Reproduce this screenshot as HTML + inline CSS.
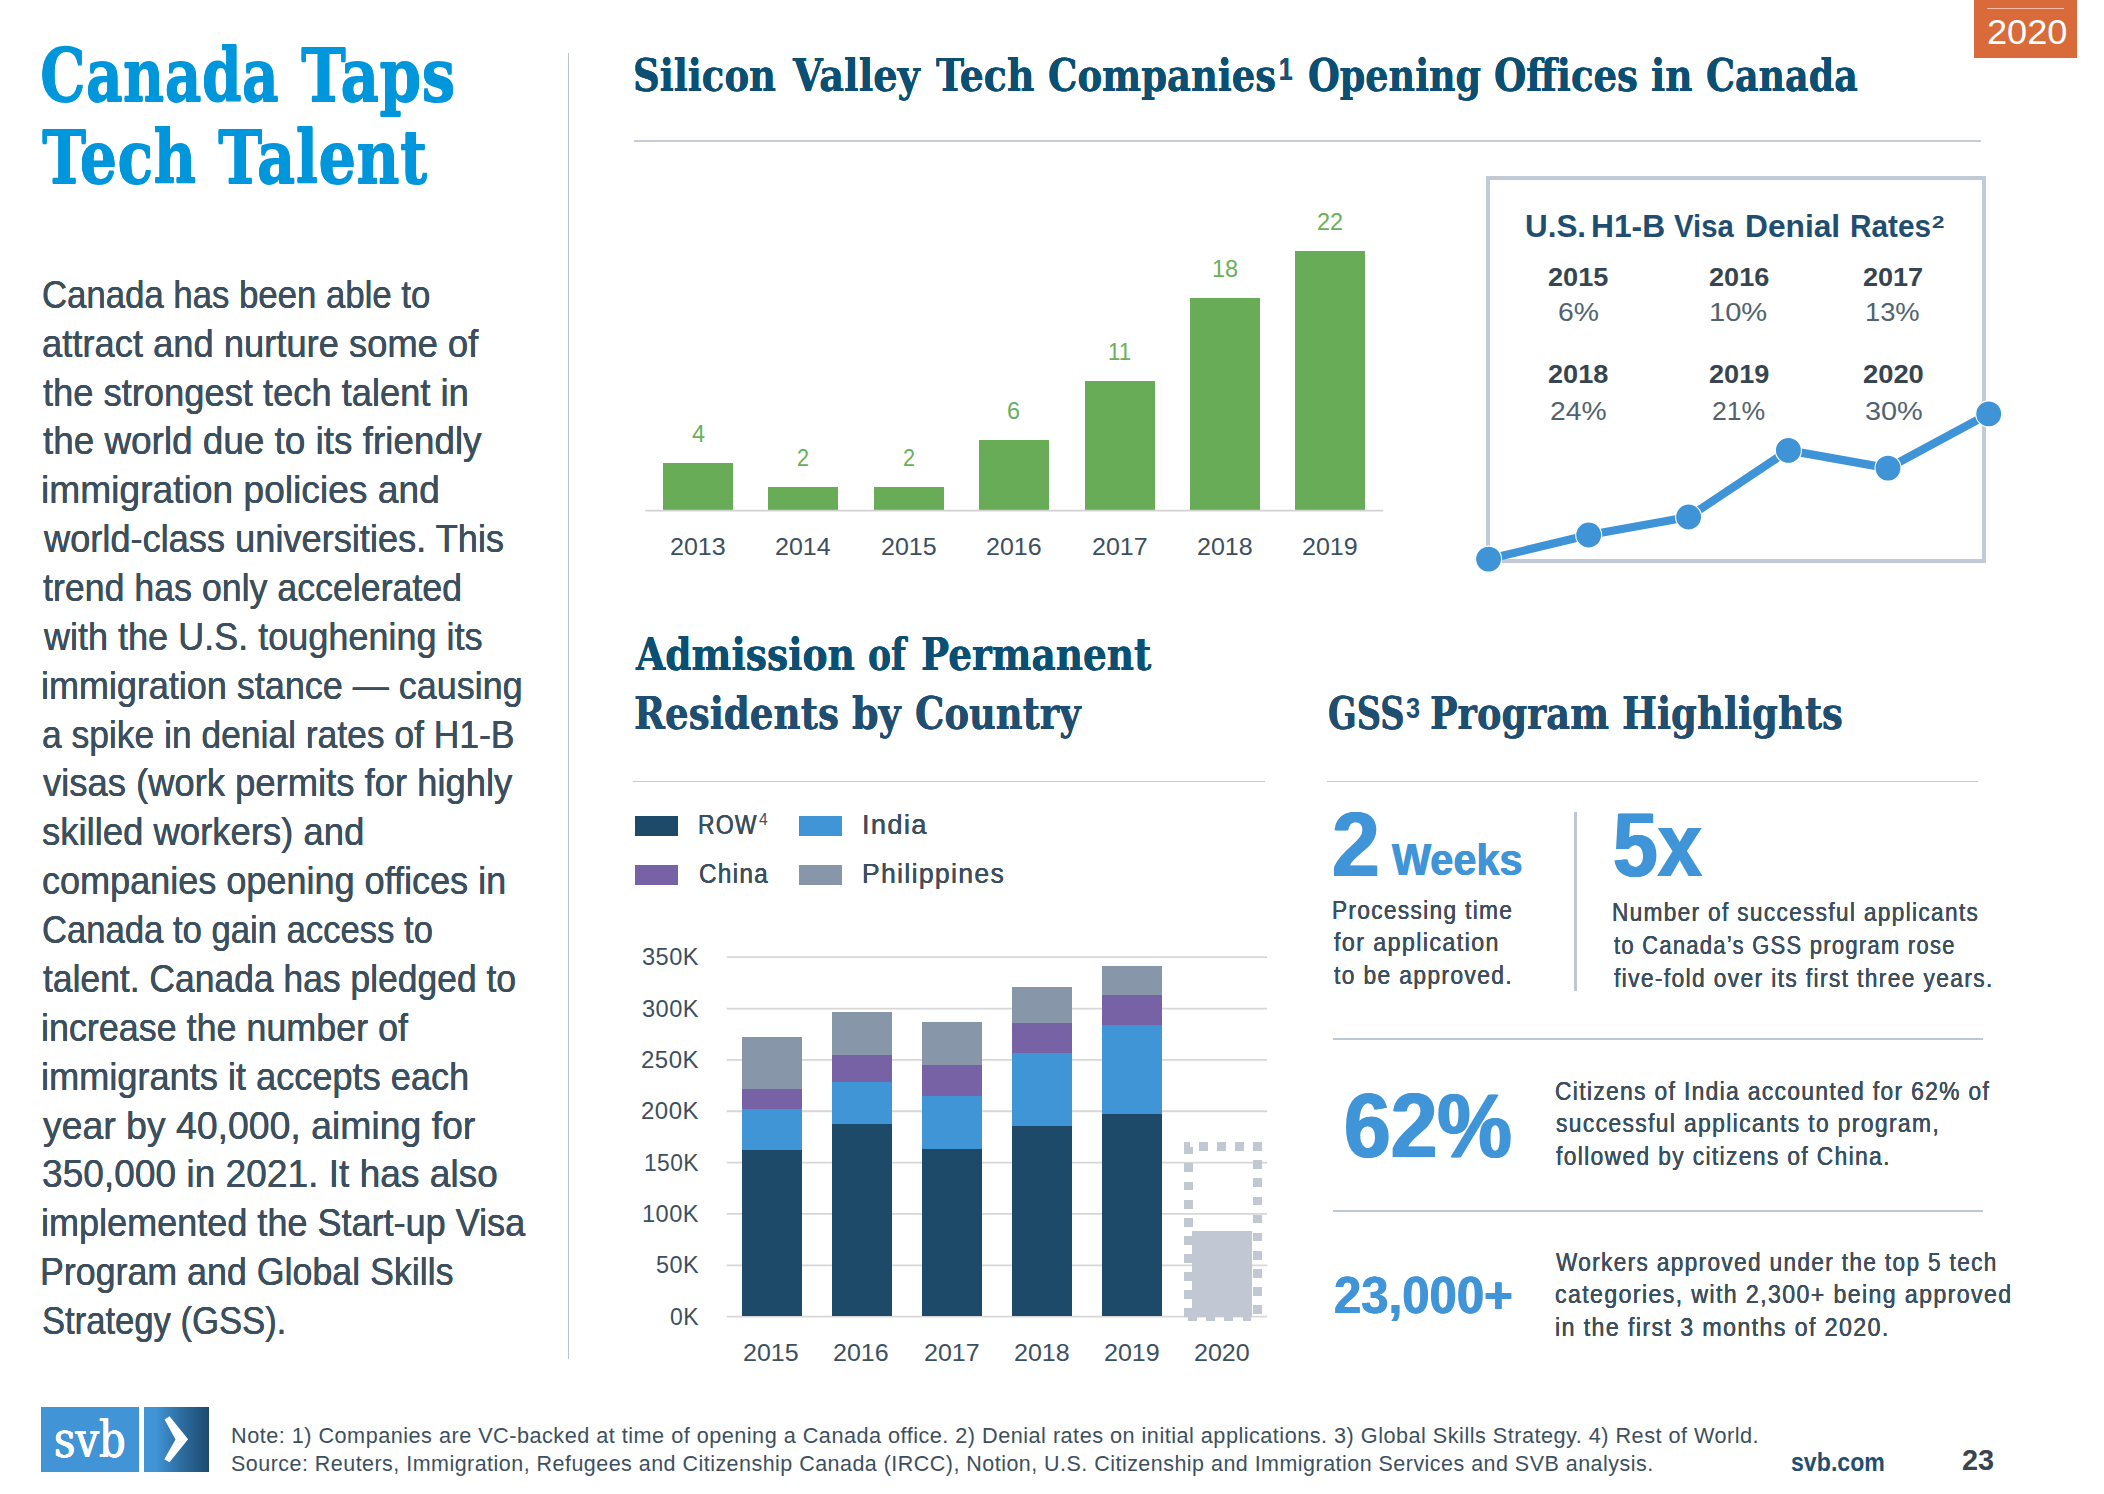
<!DOCTYPE html>
<html lang="en">
<head>
<meta charset="utf-8">
<title>Canada Taps Tech Talent</title>
<style>
html,body{margin:0;padding:0;background:#fff;}
body{width:2104px;height:1494px;position:relative;overflow:hidden;font-family:"Liberation Sans",sans-serif;}
.t{position:absolute;white-space:nowrap;transform-origin:0 0;display:block;margin:0;padding:0;}
.ttl{text-shadow:0 .7px 0 currentColor,0 -.7px 0 currentColor;}
.hdr,.sh{text-shadow:0 .45px 0 currentColor,0 -.45px 0 currentColor;}
.r{position:absolute;}
section,header,footer,aside,figure,h1,h2,h3,p{margin:0;padding:0;font-size:inherit;font-weight:inherit;}
svg{position:absolute;left:0;top:0;overflow:visible;}
</style>
</head>
<body>

<aside id="intro">
<h1>
<span class="t ttl" style="left:40.41px;top:40.29px;font-size:72px;line-height:72px;color:#0096DB;transform:scaleX(0.7968);font-family:'DejaVu Serif', 'Liberation Serif', serif;font-weight:700;">Canada</span>
<span class="t ttl" style="left:300.60px;top:40.29px;font-size:72px;line-height:72px;color:#0096DB;transform:scaleX(0.8388);font-family:'DejaVu Serif', 'Liberation Serif', serif;font-weight:700;">Taps</span>
<span class="t ttl" style="left:42.40px;top:121.59px;font-size:72px;line-height:72px;color:#0096DB;transform:scaleX(0.8249);font-family:'DejaVu Serif', 'Liberation Serif', serif;font-weight:700;">Tech</span>
<span class="t ttl" style="left:218.20px;top:121.59px;font-size:72px;line-height:72px;color:#0096DB;transform:scaleX(0.8307);font-family:'DejaVu Serif', 'Liberation Serif', serif;font-weight:700;">Talent</span>
</h1>
<div class="copy">
<span class="t body" style="left:41.91px;top:274.88px;font-size:39px;line-height:39px;color:#3C4F5E;transform:scaleX(0.8909);text-shadow:0.10px 0 0 currentColor,-0.10px 0 0 currentColor;">Canada has been able to</span>
<span class="t body" style="left:41.87px;top:323.74px;font-size:39px;line-height:39px;color:#3C4F5E;transform:scaleX(0.9317);text-shadow:0.10px 0 0 currentColor,-0.10px 0 0 currentColor;">attract and nurture some of</span>
<span class="t body" style="left:42.80px;top:372.60px;font-size:39px;line-height:39px;color:#3C4F5E;transform:scaleX(0.9308);text-shadow:0.10px 0 0 currentColor,-0.10px 0 0 currentColor;">the strongest tech talent in</span>
<span class="t body" style="left:42.80px;top:421.46px;font-size:39px;line-height:39px;color:#3C4F5E;transform:scaleX(0.9453);text-shadow:0.10px 0 0 currentColor,-0.10px 0 0 currentColor;">the world due to its friendly</span>
<span class="t body" style="left:40.89px;top:470.32px;font-size:39px;line-height:39px;color:#3C4F5E;transform:scaleX(0.9533);text-shadow:0.10px 0 0 currentColor,-0.10px 0 0 currentColor;">immigration policies and</span>
<span class="t body" style="left:43.73px;top:519.18px;font-size:39px;line-height:39px;color:#3C4F5E;transform:scaleX(0.9283);text-shadow:0.10px 0 0 currentColor,-0.10px 0 0 currentColor;">world-class universities. This</span>
<span class="t body" style="left:42.80px;top:568.04px;font-size:39px;line-height:39px;color:#3C4F5E;transform:scaleX(0.9161);text-shadow:0.10px 0 0 currentColor,-0.10px 0 0 currentColor;">trend has only accelerated</span>
<span class="t body" style="left:43.72px;top:616.90px;font-size:39px;line-height:39px;color:#3C4F5E;transform:scaleX(0.9237);text-shadow:0.10px 0 0 currentColor,-0.10px 0 0 currentColor;">with the U.S. toughening its</span>
<span class="t body" style="left:40.96px;top:665.76px;font-size:39px;line-height:39px;color:#3C4F5E;transform:scaleX(0.9221);text-shadow:0.10px 0 0 currentColor,-0.10px 0 0 currentColor;">immigration stance — causing</span>
<span class="t body" style="left:41.89px;top:714.62px;font-size:39px;line-height:39px;color:#3C4F5E;transform:scaleX(0.9081);text-shadow:0.10px 0 0 currentColor,-0.10px 0 0 currentColor;">a spike in denial rates of H1-B</span>
<span class="t body" style="left:42.80px;top:763.48px;font-size:39px;line-height:39px;color:#3C4F5E;transform:scaleX(0.9333);text-shadow:0.10px 0 0 currentColor,-0.10px 0 0 currentColor;">visas (work permits for highly</span>
<span class="t body" style="left:41.86px;top:812.34px;font-size:39px;line-height:39px;color:#3C4F5E;transform:scaleX(0.9353);text-shadow:0.10px 0 0 currentColor,-0.10px 0 0 currentColor;">skilled workers) and</span>
<span class="t body" style="left:41.88px;top:861.20px;font-size:39px;line-height:39px;color:#3C4F5E;transform:scaleX(0.9242);text-shadow:0.10px 0 0 currentColor,-0.10px 0 0 currentColor;">companies opening offices in</span>
<span class="t body" style="left:41.91px;top:910.06px;font-size:39px;line-height:39px;color:#3C4F5E;transform:scaleX(0.8882);text-shadow:0.10px 0 0 currentColor,-0.10px 0 0 currentColor;">Canada to gain access to</span>
<span class="t body" style="left:42.80px;top:958.92px;font-size:39px;line-height:39px;color:#3C4F5E;transform:scaleX(0.9090);text-shadow:0.10px 0 0 currentColor,-0.10px 0 0 currentColor;">talent. Canada has pledged to</span>
<span class="t body" style="left:40.96px;top:1007.78px;font-size:39px;line-height:39px;color:#3C4F5E;transform:scaleX(0.9200);text-shadow:0.10px 0 0 currentColor,-0.10px 0 0 currentColor;">increase the number of</span>
<span class="t body" style="left:40.94px;top:1056.64px;font-size:39px;line-height:39px;color:#3C4F5E;transform:scaleX(0.9275);text-shadow:0.10px 0 0 currentColor,-0.10px 0 0 currentColor;">immigrants it accepts each</span>
<span class="t body" style="left:42.80px;top:1105.50px;font-size:39px;line-height:39px;color:#3C4F5E;transform:scaleX(0.9587);text-shadow:0.10px 0 0 currentColor,-0.10px 0 0 currentColor;">year by 40,000, aiming for</span>
<span class="t body" style="left:41.85px;top:1154.36px;font-size:39px;line-height:39px;color:#3C4F5E;transform:scaleX(0.9512);text-shadow:0.10px 0 0 currentColor,-0.10px 0 0 currentColor;">350,000 in 2021. It has also</span>
<span class="t body" style="left:40.95px;top:1203.22px;font-size:39px;line-height:39px;color:#3C4F5E;transform:scaleX(0.9242);text-shadow:0.10px 0 0 currentColor,-0.10px 0 0 currentColor;">implemented the Start-up Visa</span>
<span class="t body" style="left:40.05px;top:1252.08px;font-size:39px;line-height:39px;color:#3C4F5E;transform:scaleX(0.9172);text-shadow:0.10px 0 0 currentColor,-0.10px 0 0 currentColor;">Program and Global Skills</span>
<span class="t body" style="left:41.91px;top:1300.94px;font-size:39px;line-height:39px;color:#3C4F5E;transform:scaleX(0.8876);text-shadow:0.10px 0 0 currentColor,-0.10px 0 0 currentColor;">Strategy (GSS).</span>
</div>
<div class="r" style="left:568px;top:53px;width:1px;height:1306px;background:#BCC2D0;"></div>
</aside>

<header id="head">
<h2>
<span class="t hdr" style="left:633.36px;top:52.88px;font-size:45px;line-height:45px;color:#0B4F73;transform:scaleX(0.8219);font-family:'DejaVu Serif', 'Liberation Serif', serif;font-weight:700;">Silicon</span>
<span class="t hdr" style="left:792.85px;top:52.88px;font-size:45px;line-height:45px;color:#0B4F73;transform:scaleX(0.8520);font-family:'DejaVu Serif', 'Liberation Serif', serif;font-weight:700;">Valley</span>
<span class="t hdr" style="left:935.70px;top:52.88px;font-size:45px;line-height:45px;color:#0B4F73;transform:scaleX(0.8405);font-family:'DejaVu Serif', 'Liberation Serif', serif;font-weight:700;">Tech</span>
<span class="t hdr" style="left:1047.88px;top:52.88px;font-size:45px;line-height:45px;color:#0B4F73;transform:scaleX(0.8210);font-family:'DejaVu Serif', 'Liberation Serif', serif;font-weight:700;">Companies</span>
<span class="t hdr" style="left:1279.40px;top:53.68px;font-size:30.5px;line-height:30.5px;color:#1F4E70;transform:scaleX(0.8000);font-weight:700;">1</span>
<span class="t hdr" style="left:1307.69px;top:52.88px;font-size:45px;line-height:45px;color:#0B4F73;transform:scaleX(0.8115);font-family:'DejaVu Serif', 'Liberation Serif', serif;font-weight:700;">Opening</span>
<span class="t hdr" style="left:1494.08px;top:52.88px;font-size:45px;line-height:45px;color:#0B4F73;transform:scaleX(0.8249);font-family:'DejaVu Serif', 'Liberation Serif', serif;font-weight:700;">Offices</span>
<span class="t hdr" style="left:1651.47px;top:52.88px;font-size:45px;line-height:45px;color:#0B4F73;transform:scaleX(0.8338);font-family:'DejaVu Serif', 'Liberation Serif', serif;font-weight:700;">in</span>
<span class="t hdr" style="left:1706.19px;top:52.88px;font-size:45px;line-height:45px;color:#0B4F73;transform:scaleX(0.8099);font-family:'DejaVu Serif', 'Liberation Serif', serif;font-weight:700;">Canada</span>
</h2>
<div class="r" style="left:634px;top:140.3px;width:1346.5px;height:1.6px;background:#C5CED8;"></div>
<div class="r" style="left:1973.7px;top:0;width:103.3px;height:57.7px;background:#D96B3A;"></div>
<div class="r" style="left:1987px;top:8px;width:77px;height:1px;background:rgba(255,255,255,.55);"></div>
<span class="t tag" style="left:1986.75px;top:14.77px;font-size:34.4px;line-height:34.4px;color:#FFFFFF;transform:scaleX(1.0514);">2020</span>
</header>

<section id="offices">
<div class="r" style="left:663.00px;top:463.30px;width:70.00px;height:47.50px;background:#68AC57;"></div>
<div class="r" style="left:768.40px;top:486.90px;width:70.00px;height:23.90px;background:#68AC57;"></div>
<div class="r" style="left:873.80px;top:486.90px;width:70.00px;height:23.90px;background:#68AC57;"></div>
<div class="r" style="left:979.20px;top:439.70px;width:70.00px;height:71.10px;background:#68AC57;"></div>
<div class="r" style="left:1084.60px;top:380.70px;width:70.00px;height:130.10px;background:#68AC57;"></div>
<div class="r" style="left:1190.00px;top:298.10px;width:70.00px;height:212.70px;background:#68AC57;"></div>
<div class="r" style="left:1295.40px;top:250.90px;width:70.00px;height:259.90px;background:#68AC57;"></div>
<svg width="2104" height="1494" viewBox="0 0 2104 1494"><line x1="645.5" y1="510.7" x2="1383" y2="510.7" stroke="#D2D2D2" stroke-width="1.8"/></svg>
<span class="t bar" style="left:669.98px;top:535.46px;font-size:24.5px;line-height:24.5px;color:#3C4F5E;transform:scaleX(1.0212);">2013</span>
<span class="t bar" style="left:691.80px;top:422.16px;font-size:24.5px;line-height:24.5px;color:#6AAF5A;transform:scaleX(0.9538);">4</span>
<span class="t bar" style="left:775.38px;top:535.46px;font-size:24.5px;line-height:24.5px;color:#3C4F5E;transform:scaleX(1.0212);">2014</span>
<span class="t bar" style="left:797.22px;top:445.76px;font-size:24.5px;line-height:24.5px;color:#6AAF5A;transform:scaleX(0.8833);">2</span>
<span class="t bar" style="left:880.78px;top:535.46px;font-size:24.5px;line-height:24.5px;color:#3C4F5E;transform:scaleX(1.0212);">2015</span>
<span class="t bar" style="left:902.62px;top:445.76px;font-size:24.5px;line-height:24.5px;color:#6AAF5A;transform:scaleX(0.8833);">2</span>
<span class="t bar" style="left:986.18px;top:535.46px;font-size:24.5px;line-height:24.5px;color:#3C4F5E;transform:scaleX(1.0212);">2016</span>
<span class="t bar" style="left:1007.49px;top:398.56px;font-size:24.5px;line-height:24.5px;color:#6AAF5A;transform:scaleX(0.9583);">6</span>
<span class="t bar" style="left:1091.58px;top:535.46px;font-size:24.5px;line-height:24.5px;color:#3C4F5E;transform:scaleX(1.0212);">2017</span>
<span class="t bar" style="left:1107.89px;top:339.56px;font-size:24.5px;line-height:24.5px;color:#6AAF5A;transform:scaleX(0.9073);">11</span>
<span class="t bar" style="left:1196.98px;top:535.46px;font-size:24.5px;line-height:24.5px;color:#3C4F5E;transform:scaleX(1.0212);">2018</span>
<span class="t bar" style="left:1211.74px;top:256.96px;font-size:24.5px;line-height:24.5px;color:#6AAF5A;transform:scaleX(0.9600);">18</span>
<span class="t bar" style="left:1302.38px;top:535.46px;font-size:24.5px;line-height:24.5px;color:#3C4F5E;transform:scaleX(1.0212);">2019</span>
<span class="t bar" style="left:1317.14px;top:209.76px;font-size:24.5px;line-height:24.5px;color:#6AAF5A;transform:scaleX(0.9600);">22</span>
</section>

<section id="h1b">
<div class="r" style="left:1485.9px;top:176.2px;width:492.1px;height:379.3px;border:4px solid #C2CBD5;"></div>
<span class="t h1b" style="left:1524.62px;top:209.81px;font-size:32px;line-height:32px;color:#1F4E70;transform:scaleX(0.9807);font-weight:700;">U.S.</span>
<span class="t h1b" style="left:1591.02px;top:209.81px;font-size:32px;line-height:32px;color:#1F4E70;transform:scaleX(0.9921);font-weight:700;">H1-B</span>
<span class="t h1b" style="left:1673.60px;top:209.81px;font-size:32px;line-height:32px;color:#1F4E70;transform:scaleX(0.9152);font-weight:700;">Visa</span>
<span class="t h1b" style="left:1745.02px;top:209.81px;font-size:32px;line-height:32px;color:#1F4E70;transform:scaleX(0.9909);font-weight:700;">Denial</span>
<span class="t h1b" style="left:1849.94px;top:209.81px;font-size:32px;line-height:32px;color:#1F4E70;transform:scaleX(0.9305);font-weight:700;">Rates</span>
<span class="t h1b" style="left:1932.40px;top:213.81px;font-size:17px;line-height:17px;color:#1F4E70;transform:scaleX(1.3111);font-weight:700;">2</span>
<span class="t h1b" style="left:1547.80px;top:263.56px;font-size:26.5px;line-height:26.5px;color:#36454F;transform:scaleX(1.0221);font-weight:700;">2015</span>
<span class="t h1b" style="left:1708.90px;top:263.56px;font-size:26.5px;line-height:26.5px;color:#36454F;transform:scaleX(1.0221);font-weight:700;">2016</span>
<span class="t h1b" style="left:1863.00px;top:263.56px;font-size:26.5px;line-height:26.5px;color:#36454F;transform:scaleX(1.0204);font-weight:700;">2017</span>
<span class="t h1b" style="left:1547.80px;top:361.46px;font-size:26.5px;line-height:26.5px;color:#36454F;transform:scaleX(1.0221);font-weight:700;">2018</span>
<span class="t h1b" style="left:1708.90px;top:361.46px;font-size:26.5px;line-height:26.5px;color:#36454F;transform:scaleX(1.0221);font-weight:700;">2019</span>
<span class="t h1b" style="left:1863.00px;top:361.46px;font-size:26.5px;line-height:26.5px;color:#36454F;transform:scaleX(1.0307);font-weight:700;">2020</span>
<span class="t h1b" style="left:1557.63px;top:299.48px;font-size:26.6px;line-height:26.6px;color:#52636F;transform:scaleX(1.0655);">6%</span>
<span class="t h1b" style="left:1708.81px;top:299.48px;font-size:26.6px;line-height:26.6px;color:#52636F;transform:scaleX(1.0933);">10%</span>
<span class="t h1b" style="left:1864.95px;top:299.48px;font-size:26.6px;line-height:26.6px;color:#52636F;transform:scaleX(1.0261);">13%</span>
<span class="t h1b" style="left:1549.64px;top:398.18px;font-size:26.6px;line-height:26.6px;color:#52636F;transform:scaleX(1.0624);">24%</span>
<span class="t h1b" style="left:1712.30px;top:398.18px;font-size:26.6px;line-height:26.6px;color:#52636F;transform:scaleX(1.0004);">21%</span>
<span class="t h1b" style="left:1864.81px;top:398.18px;font-size:26.6px;line-height:26.6px;color:#52636F;transform:scaleX(1.0857);">30%</span>
<svg width="2104" height="1494" viewBox="0 0 2104 1494">
<polyline points="1488.6,559.1 1588.7,535 1688.6,517 1788.4,450.4 1888,468.1 1988.7,413.9" fill="none" stroke="#3F93D7" stroke-width="8.2" stroke-linejoin="round" stroke-linecap="round"/>
<g fill="#3F93D7" stroke="#fff" stroke-width="1.1">
<circle cx="1488.6" cy="559.1" r="13"/><circle cx="1588.7" cy="535" r="13"/><circle cx="1688.6" cy="517" r="13"/>
<circle cx="1788.4" cy="450.4" r="13"/><circle cx="1888" cy="468.1" r="13"/><circle cx="1988.7" cy="413.9" r="13"/>
</g>
</svg>
</section>

<section id="admission">
<h2>
<span class="t adm0 sh" style="left:635.54px;top:632.28px;font-size:45px;line-height:45px;color:#0B4F73;transform:scaleX(0.8371);font-family:'DejaVu Serif', 'Liberation Serif', serif;font-weight:700;">Admission</span>
<span class="t adm0 sh" style="left:868.03px;top:632.28px;font-size:45px;line-height:45px;color:#0B4F73;transform:scaleX(0.7684);font-family:'DejaVu Serif', 'Liberation Serif', serif;font-weight:700;">of</span>
<span class="t adm0 sh" style="left:921.03px;top:632.28px;font-size:45px;line-height:45px;color:#0B4F73;transform:scaleX(0.8330);font-family:'DejaVu Serif', 'Liberation Serif', serif;font-weight:700;">Permanent</span>
<span class="t adm0 sh" style="left:634.44px;top:690.78px;font-size:45px;line-height:45px;color:#1F4E70;transform:scaleX(0.8281);font-family:'DejaVu Serif', 'Liberation Serif', serif;font-weight:700;">Residents</span>
<span class="t adm0 sh" style="left:852.06px;top:690.78px;font-size:45px;line-height:45px;color:#1F4E70;transform:scaleX(0.8450);font-family:'DejaVu Serif', 'Liberation Serif', serif;font-weight:700;">by</span>
<span class="t adm0 sh" style="left:914.58px;top:690.78px;font-size:45px;line-height:45px;color:#1F4E70;transform:scaleX(0.8202);font-family:'DejaVu Serif', 'Liberation Serif', serif;font-weight:700;">Country</span>
</h2>
<div class="r" style="left:632.6px;top:780.5px;width:632.8px;height:1.6px;background:#BFCAD5;"></div>
<div class="r" style="left:634.6px;top:816.2px;width:43.3px;height:20px;background:#1D4A69;"></div>
<div class="r" style="left:799px;top:816.2px;width:43.3px;height:20px;background:#4095D6;"></div>
<div class="r" style="left:634.6px;top:865.2px;width:43.3px;height:20px;background:#7762A6;"></div>
<div class="r" style="left:799px;top:865.2px;width:43.3px;height:20px;background:#8797A9;"></div>
<svg width="2104" height="1494" viewBox="0 0 2104 1494"><g stroke="#D7D7D8" stroke-width="1.8"><line x1="726.7" y1="957.20" x2="1267" y2="957.20"/><line x1="726.7" y1="1008.55" x2="1267" y2="1008.55"/><line x1="726.7" y1="1059.90" x2="1267" y2="1059.90"/><line x1="726.7" y1="1111.25" x2="1267" y2="1111.25"/><line x1="726.7" y1="1162.60" x2="1267" y2="1162.60"/><line x1="726.7" y1="1213.95" x2="1267" y2="1213.95"/><line x1="726.7" y1="1265.30" x2="1267" y2="1265.30"/><line x1="726.7" y1="1316.65" x2="1267" y2="1316.65"/></g></svg>
<div class="r" style="left:741.50px;top:1037.00px;width:60.00px;height:279.00px;background:#8797A9;"></div>
<div class="r" style="left:741.50px;top:1089.40px;width:60.00px;height:226.60px;background:#7762A6;"></div>
<div class="r" style="left:741.50px;top:1109.40px;width:60.00px;height:206.60px;background:#4095D6;"></div>
<div class="r" style="left:741.50px;top:1150.40px;width:60.00px;height:165.60px;background:#1D4A69;"></div>
<div class="r" style="left:831.60px;top:1012.10px;width:60.00px;height:303.90px;background:#8797A9;"></div>
<div class="r" style="left:831.60px;top:1054.80px;width:60.00px;height:261.20px;background:#7762A6;"></div>
<div class="r" style="left:831.60px;top:1082.20px;width:60.00px;height:233.80px;background:#4095D6;"></div>
<div class="r" style="left:831.60px;top:1123.60px;width:60.00px;height:192.40px;background:#1D4A69;"></div>
<div class="r" style="left:921.70px;top:1022.10px;width:60.00px;height:293.90px;background:#8797A9;"></div>
<div class="r" style="left:921.70px;top:1064.50px;width:60.00px;height:251.50px;background:#7762A6;"></div>
<div class="r" style="left:921.70px;top:1095.50px;width:60.00px;height:220.50px;background:#4095D6;"></div>
<div class="r" style="left:921.70px;top:1148.80px;width:60.00px;height:167.20px;background:#1D4A69;"></div>
<div class="r" style="left:1011.80px;top:986.60px;width:60.00px;height:329.40px;background:#8797A9;"></div>
<div class="r" style="left:1011.80px;top:1022.80px;width:60.00px;height:293.20px;background:#7762A6;"></div>
<div class="r" style="left:1011.80px;top:1053.20px;width:60.00px;height:262.80px;background:#4095D6;"></div>
<div class="r" style="left:1011.80px;top:1125.60px;width:60.00px;height:190.40px;background:#1D4A69;"></div>
<div class="r" style="left:1101.90px;top:965.90px;width:60.00px;height:350.10px;background:#8797A9;"></div>
<div class="r" style="left:1101.90px;top:994.70px;width:60.00px;height:321.30px;background:#7762A6;"></div>
<div class="r" style="left:1101.90px;top:1025.40px;width:60.00px;height:290.60px;background:#4095D6;"></div>
<div class="r" style="left:1101.90px;top:1113.60px;width:60.00px;height:202.40px;background:#1D4A69;"></div>
<div class="r" style="left:1192.10px;top:1230.60px;width:59.80px;height:86.00px;background:#C1C8D3;"></div>
<div class="r" style="left:1183.78px;top:1142.04px;width:6.29px;height:4.68px;background:#C1C8D3;"></div>
<div class="r" style="left:1183.78px;top:1146.73px;width:8.97px;height:7.36px;background:#C1C8D3;"></div>
<div class="r" style="left:1198.77px;top:1142.04px;width:8.97px;height:8.97px;background:#C1C8D3;"></div>
<div class="r" style="left:1216.84px;top:1142.04px;width:8.97px;height:8.97px;background:#C1C8D3;"></div>
<div class="r" style="left:1234.90px;top:1142.04px;width:8.97px;height:8.97px;background:#C1C8D3;"></div>
<div class="r" style="left:1252.97px;top:1142.04px;width:8.97px;height:8.97px;background:#C1C8D3;"></div>
<div class="r" style="left:1252.97px;top:1160.11px;width:9.10px;height:8.83px;background:#C1C8D3;"></div>
<div class="r" style="left:1252.97px;top:1178.17px;width:9.10px;height:8.83px;background:#C1C8D3;"></div>
<div class="r" style="left:1252.97px;top:1196.51px;width:9.10px;height:8.83px;background:#C1C8D3;"></div>
<div class="r" style="left:1252.97px;top:1214.57px;width:9.10px;height:8.83px;background:#C1C8D3;"></div>
<div class="r" style="left:1252.97px;top:1232.64px;width:9.10px;height:8.83px;background:#C1C8D3;"></div>
<div class="r" style="left:1252.97px;top:1250.84px;width:9.10px;height:8.83px;background:#C1C8D3;"></div>
<div class="r" style="left:1252.97px;top:1268.90px;width:9.10px;height:8.83px;background:#C1C8D3;"></div>
<div class="r" style="left:1252.97px;top:1286.97px;width:9.10px;height:8.83px;background:#C1C8D3;"></div>
<div class="r" style="left:1252.97px;top:1305.03px;width:9.10px;height:8.83px;background:#C1C8D3;"></div>
<div class="r" style="left:1183.78px;top:1163.45px;width:8.97px;height:8.70px;background:#C1C8D3;"></div>
<div class="r" style="left:1183.78px;top:1181.79px;width:8.97px;height:8.70px;background:#C1C8D3;"></div>
<div class="r" style="left:1183.78px;top:1199.85px;width:8.97px;height:8.70px;background:#C1C8D3;"></div>
<div class="r" style="left:1183.78px;top:1217.92px;width:8.97px;height:8.70px;background:#C1C8D3;"></div>
<div class="r" style="left:1183.78px;top:1236.12px;width:8.97px;height:8.70px;background:#C1C8D3;"></div>
<div class="r" style="left:1183.78px;top:1254.18px;width:8.97px;height:8.70px;background:#C1C8D3;"></div>
<div class="r" style="left:1183.78px;top:1272.25px;width:8.97px;height:8.70px;background:#C1C8D3;"></div>
<div class="r" style="left:1183.78px;top:1290.31px;width:8.97px;height:8.70px;background:#C1C8D3;"></div>
<div class="r" style="left:1183.78px;top:1308.24px;width:8.97px;height:8.70px;background:#C1C8D3;"></div>
<div class="r" style="left:1188.07px;top:1312.66px;width:8.97px;height:8.70px;background:#C1C8D3;"></div>
<div class="r" style="left:1206.13px;top:1312.66px;width:8.97px;height:8.70px;background:#C1C8D3;"></div>
<div class="r" style="left:1224.20px;top:1312.66px;width:8.97px;height:8.70px;background:#C1C8D3;"></div>
<div class="r" style="left:1242.53px;top:1312.66px;width:8.97px;height:8.70px;background:#C1C8D3;"></div>

<span class="t adm" style="left:697.88px;top:809.75px;font-size:28.4px;line-height:28.4px;color:#3C4F5E;transform:scaleX(0.8089);letter-spacing:1.5px;text-shadow:0.13px 0 0 currentColor,-0.13px 0 0 currentColor;">ROW</span>
<span class="t adm" style="left:759.00px;top:812.49px;font-size:15.6px;line-height:15.6px;color:#3C4F5E;transform:scaleX(1.0000);">4</span>
<span class="t adm" style="left:861.69px;top:809.75px;font-size:28.4px;line-height:28.4px;color:#3C4F5E;transform:scaleX(0.9533);letter-spacing:1.5px;text-shadow:0.13px 0 0 currentColor,-0.13px 0 0 currentColor;">India</span>
<span class="t adm" style="left:698.64px;top:859.25px;font-size:28.4px;line-height:28.4px;color:#3C4F5E;transform:scaleX(0.8578);letter-spacing:1.5px;text-shadow:0.13px 0 0 currentColor,-0.13px 0 0 currentColor;">China</span>
<span class="t adm" style="left:861.74px;top:859.25px;font-size:28.4px;line-height:28.4px;color:#3C4F5E;transform:scaleX(0.9306);letter-spacing:1.5px;text-shadow:0.13px 0 0 currentColor,-0.13px 0 0 currentColor;">Philippines</span>
<span class="t adm" style="left:642.00px;top:945.16px;font-size:24.5px;line-height:24.5px;color:#3C4F5E;transform:scaleX(0.9633);letter-spacing:0.5px;">350K</span>
<span class="t adm" style="left:642.00px;top:996.51px;font-size:24.5px;line-height:24.5px;color:#3C4F5E;transform:scaleX(0.9633);letter-spacing:0.5px;">300K</span>
<span class="t adm" style="left:641.02px;top:1047.86px;font-size:24.5px;line-height:24.5px;color:#3C4F5E;transform:scaleX(0.9798);letter-spacing:0.5px;">250K</span>
<span class="t adm" style="left:641.02px;top:1099.21px;font-size:24.5px;line-height:24.5px;color:#3C4F5E;transform:scaleX(0.9798);letter-spacing:0.5px;">200K</span>
<span class="t adm" style="left:644.07px;top:1150.56px;font-size:24.5px;line-height:24.5px;color:#3C4F5E;transform:scaleX(0.9284);letter-spacing:0.5px;">150K</span>
<span class="t adm" style="left:642.04px;top:1201.91px;font-size:24.5px;line-height:24.5px;color:#3C4F5E;transform:scaleX(0.9627);letter-spacing:0.5px;">100K</span>
<span class="t adm" style="left:656.00px;top:1253.26px;font-size:24.5px;line-height:24.5px;color:#3C4F5E;transform:scaleX(0.9547);letter-spacing:0.5px;">50K</span>
<span class="t adm" style="left:670.00px;top:1304.61px;font-size:24.5px;line-height:24.5px;color:#3C4F5E;transform:scaleX(0.9381);letter-spacing:0.5px;">0K</span>
<span class="t adm" style="left:743.38px;top:1341.06px;font-size:24.5px;line-height:24.5px;color:#3C4F5E;transform:scaleX(1.0212);">2015</span>
<span class="t adm" style="left:833.48px;top:1341.06px;font-size:24.5px;line-height:24.5px;color:#3C4F5E;transform:scaleX(1.0212);">2016</span>
<span class="t adm" style="left:923.58px;top:1341.06px;font-size:24.5px;line-height:24.5px;color:#3C4F5E;transform:scaleX(1.0212);">2017</span>
<span class="t adm" style="left:1013.68px;top:1341.06px;font-size:24.5px;line-height:24.5px;color:#3C4F5E;transform:scaleX(1.0212);">2018</span>
<span class="t adm" style="left:1103.78px;top:1341.06px;font-size:24.5px;line-height:24.5px;color:#3C4F5E;transform:scaleX(1.0212);">2019</span>
<span class="t adm" style="left:1193.88px;top:1341.06px;font-size:24.5px;line-height:24.5px;color:#3C4F5E;transform:scaleX(1.0212);">2020</span>
</section>

<section id="gss">
<h2>
<span class="t gss0 sh" style="left:1328.05px;top:690.78px;font-size:45px;line-height:45px;color:#1F4E70;transform:scaleX(0.7469);font-family:'DejaVu Serif', 'Liberation Serif', serif;font-weight:700;">GSS</span>
<span class="t gss0" style="left:1406.30px;top:692.80px;font-size:30px;line-height:30px;color:#1F4E70;transform:scaleX(0.8438);font-weight:700;">3</span>
<span class="t gss0 sh" style="left:1430.27px;top:690.78px;font-size:45px;line-height:45px;color:#1F4E70;transform:scaleX(0.8152);font-family:'DejaVu Serif', 'Liberation Serif', serif;font-weight:700;">Program</span>
<span class="t gss0 sh" style="left:1621.95px;top:690.78px;font-size:45px;line-height:45px;color:#1F4E70;transform:scaleX(0.8232);font-family:'DejaVu Serif', 'Liberation Serif', serif;font-weight:700;">Highlights</span>
</h2>
<div class="r" style="left:1327px;top:780.5px;width:651px;height:1.6px;background:#BFCAD5;"></div>
<div class="r" style="left:1574.2px;top:812.4px;width:2.5px;height:179.1px;background:#BEC7D1;"></div>
<div class="r" style="left:1333.4px;top:1037.6px;width:649.7px;height:2px;background:#BCC8D4;"></div>
<div class="r" style="left:1333.4px;top:1209.6px;width:649.7px;height:2px;background:#BCC8D4;"></div>
<span class="t gss" style="left:1331.94px;top:799.80px;font-size:90px;line-height:90px;color:#4094D8;transform:scaleX(0.9523);font-weight:700;text-shadow:1.04px 0 0 currentColor,-1.04px 0 0 currentColor;">2</span>
<span class="t gss" style="left:1392.20px;top:838.15px;font-size:44.7px;line-height:44.7px;color:#4094D8;transform:scaleX(0.9269);font-weight:700;text-shadow:0.53px 0 0 currentColor,-0.53px 0 0 currentColor;">Weeks</span>
<span class="t gss" style="left:1612.92px;top:799.80px;font-size:90px;line-height:90px;color:#4094D8;transform:scaleX(0.8913);font-weight:700;text-shadow:1.11px 0 0 currentColor,-1.11px 0 0 currentColor;">5x</span>
<span class="t gss" style="left:1331.98px;top:897.72px;font-size:24.9px;line-height:24.9px;color:#3C4F5E;transform:scaleX(0.9082);letter-spacing:1.5px;text-shadow:0.08px 0 0 currentColor,-0.08px 0 0 currentColor;">Processing time</span>
<span class="t gss" style="left:1333.80px;top:930.32px;font-size:24.9px;line-height:24.9px;color:#3C4F5E;transform:scaleX(0.9347);letter-spacing:1.5px;text-shadow:0.08px 0 0 currentColor,-0.08px 0 0 currentColor;">for application</span>
<span class="t gss" style="left:1333.80px;top:963.02px;font-size:24.9px;line-height:24.9px;color:#3C4F5E;transform:scaleX(0.9158);letter-spacing:1.5px;text-shadow:0.08px 0 0 currentColor,-0.08px 0 0 currentColor;">to be approved.</span>
<span class="t gss" style="left:1611.69px;top:900.32px;font-size:24.9px;line-height:24.9px;color:#3C4F5E;transform:scaleX(0.9070);letter-spacing:1.5px;text-shadow:0.08px 0 0 currentColor,-0.08px 0 0 currentColor;">Number of successful applicants</span>
<span class="t gss" style="left:1613.50px;top:932.82px;font-size:24.9px;line-height:24.9px;color:#3C4F5E;transform:scaleX(0.8790);letter-spacing:1.5px;text-shadow:0.08px 0 0 currentColor,-0.08px 0 0 currentColor;">to Canada’s GSS program rose</span>
<span class="t gss" style="left:1613.50px;top:965.62px;font-size:24.9px;line-height:24.9px;color:#3C4F5E;transform:scaleX(0.9147);letter-spacing:1.5px;text-shadow:0.08px 0 0 currentColor,-0.08px 0 0 currentColor;">five-fold over its first three years.</span>
<span class="t gss" style="left:1344.34px;top:1080.25px;font-size:91px;line-height:91px;color:#4094D8;transform:scaleX(0.9215);font-weight:700;text-shadow:1.09px 0 0 currentColor,-1.09px 0 0 currentColor;">62%</span>
<span class="t gss" style="left:1554.79px;top:1078.92px;font-size:24.9px;line-height:24.9px;color:#3C4F5E;transform:scaleX(0.9138);letter-spacing:1.5px;text-shadow:0.08px 0 0 currentColor,-0.08px 0 0 currentColor;">Citizens of India accounted for 62% of</span>
<span class="t gss" style="left:1555.70px;top:1111.42px;font-size:24.9px;line-height:24.9px;color:#3C4F5E;transform:scaleX(0.9170);letter-spacing:1.5px;text-shadow:0.08px 0 0 currentColor,-0.08px 0 0 currentColor;">successful applicants to program,</span>
<span class="t gss" style="left:1555.70px;top:1143.92px;font-size:24.9px;line-height:24.9px;color:#3C4F5E;transform:scaleX(0.9149);letter-spacing:1.5px;text-shadow:0.08px 0 0 currentColor,-0.08px 0 0 currentColor;">followed by citizens of China.</span>
<span class="t gss" style="left:1333.74px;top:1269.82px;font-size:51px;line-height:51px;color:#4094D8;transform:scaleX(0.9624);font-weight:700;text-shadow:0.58px 0 0 currentColor,-0.58px 0 0 currentColor;">23,000+</span>
<span class="t gss" style="left:1556.10px;top:1249.62px;font-size:24.9px;line-height:24.9px;color:#3C4F5E;transform:scaleX(0.9075);letter-spacing:1.5px;text-shadow:0.08px 0 0 currentColor,-0.08px 0 0 currentColor;">Workers approved under the top 5 tech</span>
<span class="t gss" style="left:1555.17px;top:1282.02px;font-size:24.9px;line-height:24.9px;color:#3C4F5E;transform:scaleX(0.9295);letter-spacing:1.5px;text-shadow:0.08px 0 0 currentColor,-0.08px 0 0 currentColor;">categories, with 2,300+ being approved</span>
<span class="t gss" style="left:1555.17px;top:1314.52px;font-size:24.9px;line-height:24.9px;color:#3C4F5E;transform:scaleX(0.9322);letter-spacing:1.5px;text-shadow:0.08px 0 0 currentColor,-0.08px 0 0 currentColor;">in the first 3 months of 2020.</span>
</section>

<footer id="foot">
<div class="r" style="left:41px;top:1407.1px;width:97.6px;height:64.7px;background:#4194D6;"></div>
<div class="r" style="left:143.6px;top:1407.1px;width:65.2px;height:64.7px;background:linear-gradient(90deg,#4194D6 0%,#4194D6 18%,#2D6FA3 55%,#1C4A6D 100%);"></div>
<svg width="2104" height="1494" viewBox="0 0 2104 1494"><polygon points="164.6,1419.4 169.5,1416.3 188.1,1439.2 169.5,1462.3 164.3,1459.2 175.5,1439.4" fill="#fff"/></svg>
<span class="t logo" style="left:54.17px;top:1413.97px;font-size:51px;line-height:51px;color:#FFFFFF;transform:scaleX(0.8168);font-family:'DejaVu Serif', 'Liberation Serif', serif;text-shadow:.6px 0 0 #fff,-.6px 0 0 #fff,0 .4px 0 #fff,0 -.4px 0 #fff;">svb</span>
<span class="t foot" style="left:231.34px;top:1424.65px;font-size:22.5px;line-height:22.5px;color:#3C4F5E;transform:scaleX(0.9632);letter-spacing:0.5px;">Note: 1) Companies are VC-backed at time of opening a Canada office. 2) Denial rates on initial applications. 3) Global Skills Strategy. 4) Rest of World.</span>
<span class="t foot" style="left:231.35px;top:1453.15px;font-size:22.5px;line-height:22.5px;color:#3C4F5E;transform:scaleX(0.9545);letter-spacing:0.5px;">Source: Reuters, Immigration, Refugees and Citizenship Canada (IRCC), Notion, U.S. Citizenship and Immigration Services and SVB analysis.</span>
<span class="t foot" style="left:1791.00px;top:1448.69px;font-size:26px;line-height:26px;color:#1F4E70;transform:scaleX(0.8901);font-weight:700;">svb.com</span>
<span class="t foot" style="left:1962.04px;top:1445.30px;font-size:30px;line-height:30px;color:#36454F;transform:scaleX(0.9626);font-weight:700;">23</span>
</footer>

</body>
</html>
